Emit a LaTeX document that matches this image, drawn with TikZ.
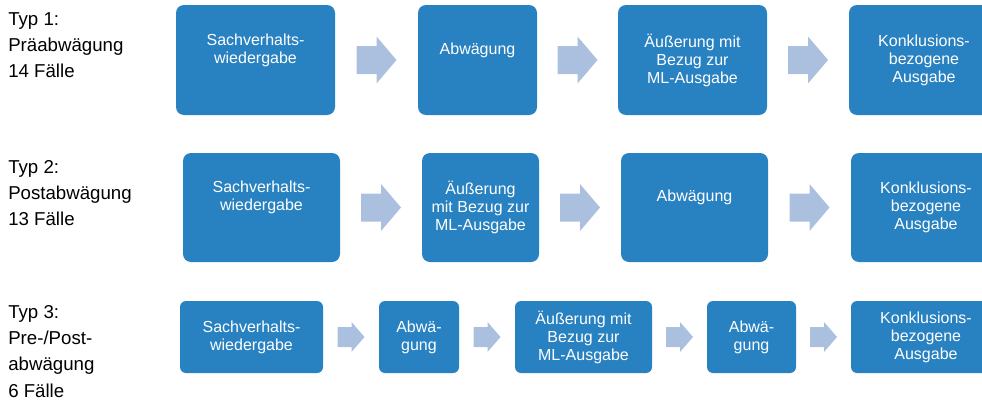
\documentclass[tikz,border=0pt]{standalone}
\usepackage{fontspec}
\setmainfont{Liberation Sans}
\definecolor{boxblue}{RGB}{40,129,193}
\definecolor{arrowblue}{RGB}{170,192,222}

\begin{document}
\begin{tikzpicture}[x=0.75pt,y=-0.75pt,
  box/.style 2 args={fill=boxblue,rounded corners=6pt,inner sep=0pt,
    minimum width=#1*0.75pt,minimum height=#2*0.75pt,
    align=center,text=white,font=\fontsize{12}{13.5}\selectfont},
  smallbox/.style 2 args={box={#1}{#2},rounded corners=4.5pt},
  typ/.style={anchor=north west,inner sep=0pt,align=left,
    font=\fontsize{14}{19.7}\selectfont}]
  \useasboundingbox (0,0) rectangle (982,400);
  \clip (0,0) rectangle (982,400);

  \node[typ] (t1) at (8,12) {Typ 1:\\Präabwägung\\14 Fälle};
  \node[typ] (t2) at (8,160) {Typ 2:\\Postabwägung\\13 Fälle};
  \node[typ] (t3) at (8,305) {Typ 3:\\Pre-/Post-\\abwägung\\6 Fälle};

  \node[box={159}{110}] (s1) at (255.5,60) {Sachverhalts-\\wiedergabe\\\strut};
  \node[box={119}{110}] (a1) at (477.5,60) {Abwägung\\\strut};
  \node[box={149}{110}] (b1) at (692.5,60) {Äußerung mit\\Bezug zur\\ML-Ausgabe};
  \node[box={150}{110}] (k1) at (924,60) {Konklusions-\\bezogene\\Ausgabe};

  \node[box={157}{109}] (s2) at (261.5,207.5) {Sachverhalts-\\wiedergabe\\\strut};
  \node[box={117}{109}] (b2) at (480.5,207.5) {Äußerung\\mit Bezug zur\\ML-Ausgabe};
  \node[box={147}{109}] (a2) at (694.5,207.5) {Abwägung\\\strut};
  \node[box={150}{109}] (k2) at (926,207.5) {Konklusions-\\bezogene\\Ausgabe};

  \node[smallbox={143}{72}] (s3) at (251.5,337) {Sachverhalts-\\wiedergabe};
  \node[smallbox={80}{72}] (a3) at (419,337) {Abwä-\\gung};
  \node[smallbox={137}{72}] (b3) at (583.5,337) {Äußerung mit\\Bezug zur\\ML-Ausgabe};
  \node[smallbox={89}{72}] (c3) at (751.5,337) {Abwä-\\gung};
  \node[smallbox={150}{72}] (k3) at (926,337) {Konklusions-\\bezogene\\Ausgabe};

  \foreach \p/\q/\l/\n/\h/\s in {s1/a1/40/20/23.5/14,a1/b1/40/20/23.5/14,b1/k1/40/20/23.5/14,
      s2/b2/40/20/23.5/14,b2/a2/40/20/23.5/14,a2/k2/40/20/23.5/14,
      s3/a3/27/13/15/10,a3/b3/27/13/15/10,b3/c3/27/13/15/10,c3/k3/27/13/15/10}{
    \path (\p.east) -- (\q.west) coordinate[midway] (m);
    \fill[arrowblue] ([shift={(-\l/2,-\s)}]m) -- ++(\l-\n,0) -- ++(0,\s-\h) -- ++(\n,\h)
      -- ++(-\n,\h) -- ++(0,\s-\h) -- ++(\n-\l,0) -- cycle;
  }
\end{tikzpicture}
\end{document}
